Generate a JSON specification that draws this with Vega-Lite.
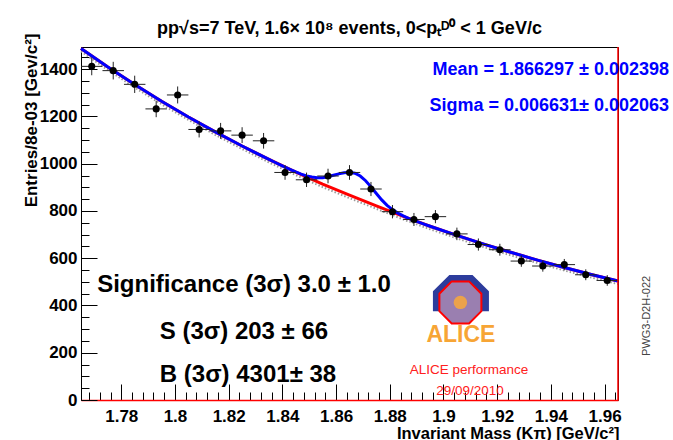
{
  "$schema": "https://vega.github.io/schema/vega-lite/v6.json",
  "width": 537,
  "height": 353,
  "autosize": {"type": "none"},
  "padding": {"left": 81, "top": 47, "right": 55, "bottom": 40},
  "background": "white",
  "config": {
    "font": "Liberation Sans",
    "view": {"stroke": "black", "strokeWidth": 1},
    "axis": {"grid": false}
  },
  "title": {"text": "pp√s=7 TeV, 1.6× 10⁸ events, 0<pₜᴰ⁰ < 1 GeV/c", "font": "Liberation Sans", "fontSize": 18, "fontWeight": "bold", "color": "black", "anchor": "middle", "offset": 10, "dy": 15},
  "datasets": {
    "hist": [
      {"x": 1.769, "n": 1412, "err": 37.6, "x0": 1.765, "x1": 1.773},
      {"x": 1.777, "n": 1394, "err": 37.3, "x0": 1.773, "x1": 1.781},
      {"x": 1.785, "n": 1336, "err": 36.6, "x0": 1.781, "x1": 1.789},
      {"x": 1.793, "n": 1232, "err": 35.1, "x0": 1.789, "x1": 1.797},
      {"x": 1.801, "n": 1291, "err": 35.9, "x0": 1.797, "x1": 1.805},
      {"x": 1.809, "n": 1145, "err": 33.8, "x0": 1.805, "x1": 1.813},
      {"x": 1.817, "n": 1139, "err": 33.7, "x0": 1.813, "x1": 1.821},
      {"x": 1.825, "n": 1121, "err": 33.5, "x0": 1.821, "x1": 1.829},
      {"x": 1.833, "n": 1097, "err": 33.1, "x0": 1.829, "x1": 1.837},
      {"x": 1.841, "n": 963, "err": 31.0, "x0": 1.837, "x1": 1.845},
      {"x": 1.849, "n": 932, "err": 30.5, "x0": 1.845, "x1": 1.853},
      {"x": 1.857, "n": 948, "err": 30.8, "x0": 1.853, "x1": 1.861},
      {"x": 1.865, "n": 963, "err": 31.0, "x0": 1.861, "x1": 1.869},
      {"x": 1.873, "n": 893, "err": 29.9, "x0": 1.869, "x1": 1.877},
      {"x": 1.881, "n": 797, "err": 28.2, "x0": 1.877, "x1": 1.885},
      {"x": 1.889, "n": 764, "err": 27.6, "x0": 1.885, "x1": 1.893},
      {"x": 1.897, "n": 776, "err": 27.9, "x0": 1.893, "x1": 1.901},
      {"x": 1.905, "n": 703, "err": 26.5, "x0": 1.901, "x1": 1.909},
      {"x": 1.913, "n": 658, "err": 25.7, "x0": 1.909, "x1": 1.917},
      {"x": 1.921, "n": 636, "err": 25.2, "x0": 1.917, "x1": 1.925},
      {"x": 1.929, "n": 588, "err": 24.2, "x0": 1.925, "x1": 1.933},
      {"x": 1.937, "n": 567, "err": 23.8, "x0": 1.933, "x1": 1.941},
      {"x": 1.945, "n": 573, "err": 23.9, "x0": 1.941, "x1": 1.949},
      {"x": 1.953, "n": 530, "err": 23.0, "x0": 1.949, "x1": 1.957},
      {"x": 1.961, "n": 506, "err": 22.5, "x0": 1.957, "x1": 1.965}
    ],
    "bkg": [
      {"x": 1.765, "y": 1488}, {"x": 1.775, "y": 1409.5}, {"x": 1.785, "y": 1335.1},
      {"x": 1.795, "y": 1264.7}, {"x": 1.805, "y": 1198.0}, {"x": 1.815, "y": 1134.8},
      {"x": 1.825, "y": 1074.9}, {"x": 1.835, "y": 1018.2}, {"x": 1.845, "y": 964.5},
      {"x": 1.855, "y": 913.6}, {"x": 1.865, "y": 867}, {"x": 1.875, "y": 822},
      {"x": 1.885, "y": 777}, {"x": 1.895, "y": 735.5}, {"x": 1.905, "y": 696.8},
      {"x": 1.915, "y": 660.0}, {"x": 1.925, "y": 625.2}, {"x": 1.935, "y": 592.2},
      {"x": 1.945, "y": 560.9}, {"x": 1.955, "y": 531.4}, {"x": 1.965, "y": 503.3}
    ],
    "fit": [
      {"x": 1.765, "y": 1488}, {"x": 1.775, "y": 1409.5}, {"x": 1.785, "y": 1335.1},
      {"x": 1.795, "y": 1264.7}, {"x": 1.805, "y": 1198.0}, {"x": 1.815, "y": 1134.8},
      {"x": 1.825, "y": 1074.9}, {"x": 1.835, "y": 1018.2}, {"x": 1.837, "y": 1007.2},
      {"x": 1.839, "y": 996.4}, {"x": 1.841, "y": 985.7}, {"x": 1.843, "y": 975.2},
      {"x": 1.845, "y": 965.1}, {"x": 1.847, "y": 956}, {"x": 1.849, "y": 948.5},
      {"x": 1.851, "y": 943.5}, {"x": 1.853, "y": 941}, {"x": 1.855, "y": 941},
      {"x": 1.857, "y": 945}, {"x": 1.859, "y": 951}, {"x": 1.861, "y": 957},
      {"x": 1.863, "y": 962}, {"x": 1.865, "y": 964}, {"x": 1.867, "y": 960},
      {"x": 1.869, "y": 948}, {"x": 1.871, "y": 928}, {"x": 1.873, "y": 902},
      {"x": 1.875, "y": 874}, {"x": 1.877, "y": 847}, {"x": 1.879, "y": 824},
      {"x": 1.881, "y": 806}, {"x": 1.883, "y": 791}, {"x": 1.885, "y": 779},
      {"x": 1.887, "y": 768.9}, {"x": 1.889, "y": 760.1}, {"x": 1.891, "y": 751.7},
      {"x": 1.893, "y": 743.5}, {"x": 1.895, "y": 735.5}, {"x": 1.905, "y": 696.8},
      {"x": 1.915, "y": 660.0}, {"x": 1.925, "y": 625.2}, {"x": 1.935, "y": 592.2},
      {"x": 1.945, "y": 560.9}, {"x": 1.955, "y": 531.4}, {"x": 1.965, "y": 503.3}
    ]
  },
  "data": {"values": [{}]},
  "layer": [
    {
      "data": {"name": "bkg"},
      "mark": {"type": "line", "color": "#9a9a9a", "strokeWidth": 2, "strokeDash": [1.5, 2], "yOffset": 3},
      "encoding": {
        "x": {"field": "x", "type": "quantitative",
          "scale": {"domain": [1.765, 1.965], "nice": false, "zero": false},
          "axis": {"orient": "bottom", "values": [1.768, 1.772, 1.776, 1.784, 1.788, 1.792, 1.796, 1.804, 1.808, 1.812, 1.816, 1.824, 1.828, 1.832, 1.836, 1.844, 1.848, 1.852, 1.856, 1.864, 1.868, 1.872, 1.876, 1.884, 1.888, 1.892, 1.896, 1.904, 1.908, 1.912, 1.916, 1.924, 1.928, 1.932, 1.936, 1.944, 1.948, 1.952, 1.956, 1.964],
            "tickSize": -8, "tickColor": "black", "labels": false, "domain": false, "title": null, "grid": false}},
        "y": {"field": "y", "type": "quantitative",
          "scale": {"domain": [0, 1494], "nice": false, "zero": false},
          "axis": {"orient": "left", "values": [50, 100, 150, 250, 300, 350, 450, 500, 550, 650, 700, 750, 850, 900, 950, 1050, 1100, 1150, 1250, 1300, 1350, 1450],
            "tickSize": -8, "tickColor": "black", "labels": false, "domain": false, "title": null, "grid": false}}
      }
    },
    {
      "data": {"name": "bkg"},
      "mark": {"type": "line", "color": "#ff0000", "strokeWidth": 3},
      "encoding": {
        "x": {"field": "x", "type": "quantitative",
          "axis": {"orient": "bottom", "values": [1.78, 1.8, 1.82, 1.84, 1.86, 1.88, 1.9, 1.92, 1.94, 1.96],
            "tickSize": -16, "tickColor": "black", "labels": false, "domain": false, "title": null, "grid": false}},
        "y": {"field": "y", "type": "quantitative",
          "axis": {"orient": "left", "values": [0, 200, 400, 600, 800, 1000, 1200, 1400],
            "tickSize": -16, "tickColor": "black", "labels": false, "domain": false, "title": null, "grid": false}}
      }
    },
    {
      "data": {"name": "fit"},
      "mark": {"type": "line", "color": "#0000ff", "strokeWidth": 3},
      "encoding": {
        "x": {"field": "x", "type": "quantitative", "axis": null},
        "y": {"field": "y", "type": "quantitative", "axis": null}
      }
    },
    {
      "data": {"name": "hist"},
      "mark": {"type": "rule", "color": "#222222", "strokeWidth": 1},
      "encoding": {
        "x": {"field": "x0", "type": "quantitative", "axis": null},
        "x2": {"field": "x1"},
        "y": {"field": "n", "type": "quantitative", "axis": null}
      }
    },
    {
      "data": {"name": "hist"},
      "mark": {"type": "errorbar", "color": "#222222", "thickness": 1},
      "encoding": {
        "x": {"field": "x", "type": "quantitative", "axis": null},
        "y": {"field": "n", "type": "quantitative", "axis": null},
        "yError": {"field": "err"}
      }
    },
    {
      "data": {"name": "hist"},
      "mark": {"type": "circle", "size": 50, "color": "black", "opacity": 1},
      "encoding": {
        "x": {"field": "x", "type": "quantitative",
          "scale": {"domain": [1.765, 1.965], "nice": false, "zero": false},
          "axis": {"orient": "bottom", "values": [1.78, 1.8, 1.82, 1.84, 1.86, 1.88, 1.9, 1.92, 1.94, 1.96], "format": ".2~f",
            "ticks": false, "domainColor": "#ff0000", "domainWidth": 1.5,
            "labelFont": "Liberation Sans", "labelFontSize": 17, "labelFontWeight": "bold", "labelColor": "black", "labelPadding": 8, "labelFlush": false, "labelOverlap": false,
            "title": "Invariant Mass (Kπ) [GeV/c²]", "titleFont": "Liberation Sans", "titleFontSize": 16.5, "titleFontWeight": "bold", "titleColor": "black",
            "titleAnchor": "end", "titleAlign": "right", "titleBaseline": "alphabetic", "titleX": 538, "titleY": 38, "grid": false}},
        "y": {"field": "n", "type": "quantitative",
          "scale": {"domain": [0, 1494], "nice": false, "zero": false},
          "axis": {"orient": "left", "values": [0, 200, 400, 600, 800, 1000, 1200, 1400], "format": "d",
            "ticks": false, "domainColor": "black",
            "labelFont": "Liberation Sans", "labelFontSize": 17, "labelFontWeight": "bold", "labelColor": "black", "labelPadding": 4, "labelFlush": false, "labelOverlap": false,
            "title": "Entries/8e-03 [Gev/c²]", "titleFont": "Liberation Sans", "titleFontSize": 17, "titleFontWeight": "bold", "titleColor": "black",
            "titleAngle": -90, "titleAlign": "right", "titleBaseline": "middle", "titleX": -50, "titleY": -14, "grid": false}}
      }
    },
    {
      "mark": {"type": "rule", "color": "#ff0000", "strokeWidth": 1.5},
      "encoding": {"x": {"datum": 1.965, "type": "quantitative", "axis": null}}
    },
    {
      "mark": {"type": "text", "text": "Mean = 1.866297 ± 0.002398", "align": "right", "baseline": "middle", "fontSize": 18, "fontWeight": "bold", "color": "#0000ff"},
      "encoding": {"x": {"datum": 1.984, "type": "quantitative", "axis": null}, "y": {"datum": 1397, "type": "quantitative", "axis": null}}
    },
    {
      "mark": {"type": "text", "text": "Sigma = 0.006631± 0.002063", "align": "right", "baseline": "middle", "fontSize": 18, "fontWeight": "bold", "color": "#0000ff"},
      "encoding": {"x": {"datum": 1.984, "type": "quantitative", "axis": null}, "y": {"datum": 1243, "type": "quantitative", "axis": null}}
    },
    {
      "mark": {"type": "text", "text": "Significance (3σ) 3.0 ± 1.0", "align": "center", "baseline": "middle", "fontSize": 24, "fontWeight": "bold", "color": "black"},
      "encoding": {"x": {"datum": 1.8257, "type": "quantitative", "axis": null}, "y": {"datum": 487, "type": "quantitative", "axis": null}}
    },
    {
      "mark": {"type": "text", "text": "S (3σ) 203 ± 66", "align": "center", "baseline": "middle", "fontSize": 24, "fontWeight": "bold", "color": "black"},
      "encoding": {"x": {"datum": 1.8257, "type": "quantitative", "axis": null}, "y": {"datum": 288, "type": "quantitative", "axis": null}}
    },
    {
      "mark": {"type": "text", "text": "B (3σ) 4301± 38", "align": "center", "baseline": "middle", "fontSize": 24, "fontWeight": "bold", "color": "black"},
      "encoding": {"x": {"datum": 1.8272, "type": "quantitative", "axis": null}, "y": {"datum": 106, "type": "quantitative", "axis": null}}
    },
    {
      "mark": {"type": "point", "shape": "M-0.414,-1L0.414,-1L1,-0.414L1,0.3L0.72,0.3L0.72,-0.3L0.3,-0.72L-0.3,-0.72L-0.72,-0.3L-0.72,0.3L-1,0.3L-1,-0.414Z", "size": 3136, "filled": true, "color": "#2d3c9c", "opacity": 1},
      "encoding": {"x": {"datum": 1.9065, "type": "quantitative", "axis": null}, "y": {"datum": 411, "type": "quantitative", "axis": null}}
    },
    {
      "mark": {"type": "point", "shape": "M-0.414,-1L0.414,-1L1,-0.414L1,0.414L0.414,1L-0.414,1L-1,0.414L-1,-0.414Z", "size": 1764, "filled": true, "fill": "#9a7fb0", "stroke": "#ff0000", "strokeWidth": 2, "opacity": 1},
      "encoding": {"x": {"datum": 1.9063, "type": "quantitative", "axis": null}, "y": {"datum": 413, "type": "quantitative", "axis": null}}
    },
    {
      "mark": {"type": "point", "shape": "circle", "size": 180, "filled": true, "color": "#f4a640", "opacity": 0.9},
      "encoding": {"x": {"datum": 1.9063, "type": "quantitative", "axis": null}, "y": {"datum": 413, "type": "quantitative", "axis": null}}
    },
    {
      "mark": {"type": "text", "text": "ALICE", "align": "center", "baseline": "middle", "fontSize": 23, "fontWeight": "bold", "color": "#f7a535"},
      "encoding": {"x": {"datum": 1.9065, "type": "quantitative", "axis": null}, "y": {"datum": 277, "type": "quantitative", "axis": null}}
    },
    {
      "mark": {"type": "text", "text": "ALICE performance", "align": "center", "baseline": "middle", "fontSize": 13.5, "color": "#ff2020"},
      "encoding": {"x": {"datum": 1.9095, "type": "quantitative", "axis": null}, "y": {"datum": 129, "type": "quantitative", "axis": null}}
    },
    {
      "mark": {"type": "text", "text": "29/09/2010", "align": "center", "baseline": "middle", "fontSize": 13.5, "color": "#ff2020"},
      "encoding": {"x": {"datum": 1.9099, "type": "quantitative", "axis": null}, "y": {"datum": 36, "type": "quantitative", "axis": null}}
    },
    {
      "mark": {"type": "text", "text": "PWG3-D2H-022", "align": "center", "baseline": "middle", "angle": 270, "fontSize": 11, "color": "#444444"},
      "encoding": {"x": {"datum": 1.9758, "type": "quantitative", "axis": null}, "y": {"datum": 356, "type": "quantitative", "axis": null}}
    }
  ],
  "resolve": {"axis": {"x": "independent", "y": "independent"}}
}
